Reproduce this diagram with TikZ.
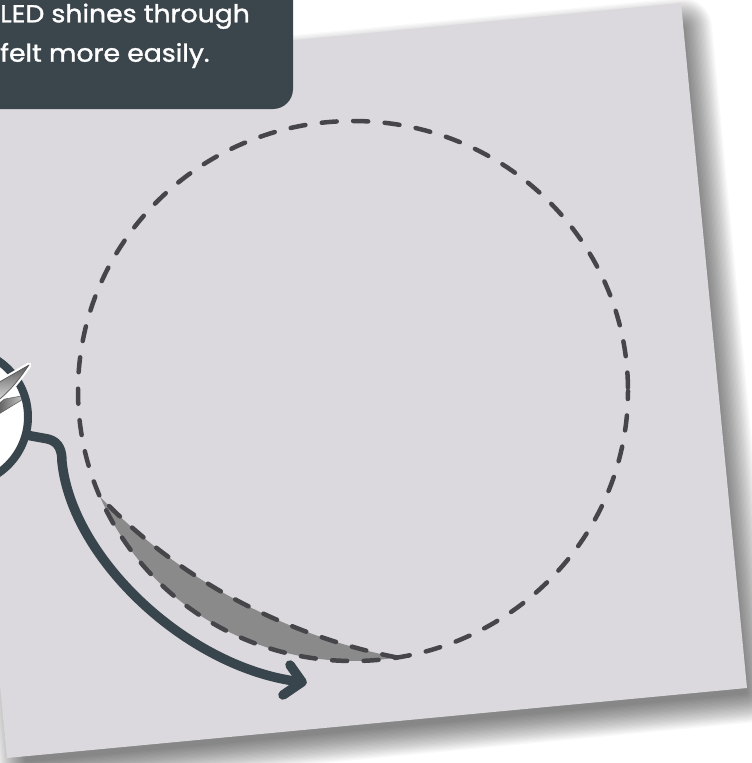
\documentclass[tikz,border=0pt]{standalone}
\usepackage{fontspec}
\setmainfont{Poppins}
\newfontfamily\capfont[FakeBold=1.4, FakeStretch=1.09]{Poppins}
\usetikzlibrary{calc}
\definecolor{panelc}{HTML}{DBD9DE}
\definecolor{boxc}{HTML}{3B454C}
\definecolor{arrowc}{HTML}{38454D}
\definecolor{dashc}{HTML}{46464A}
\definecolor{crescc}{HTML}{8A8A8A}
\begin{document}
\begin{tikzpicture}[x=1pt,y=-1pt,
  dashline/.style={draw=dashc, line width=4.5pt, dash pattern=on 15pt off 16.5pt, line cap=round},
  thickline/.style={draw=arrowc, line width=9.5pt, line cap=round, line join=round},
  captext/.style={anchor=base west, inner sep=0pt, text=white, font=\capfont\fontsize{24.5}{39}\selectfont}]
\useasboundingbox (0,0) rectangle (752,763);
\clip (0,0) rectangle (752,763);
\fill[white] (0,0) rectangle (752,763);
% shadow of the panel
\foreach \k in {1,...,24}{
  \pgfmathsetmacro{\e}{30*\k/24}
  \fill[black, fill opacity=0.024, rounded corners=\e pt]
    ($(-38.1,97)+\e*(-1.0914,-0.8998)$) -- ($(682,27.9)+\e*(0.8994,-1.0908)$) --
    ($(746.1,693)+\e*(1.0914,0.8998)$) -- ($(26,761.1)+\e*(-0.8994,1.0908)$) -- cycle;
}
% panel
\coordinate (pTL) at (-59,74);
\coordinate (pTR) at (681,3);
\coordinate (pBR) at (747,688);
\coordinate (pBL) at (7,758);
\fill[panelc] (pTL) -- (pTR) -- (pBR) -- (pBL) -- cycle;
% crescent
\coordinate (cA) at (100.1,496.9);
\coordinate (cC) at (397.0,657.5);
\fill[crescc] (cA) arc[start angle=156.9, end angle=80.8, x radius=275, y radius=270]
  .. controls (284,635) and (180,580) .. (cA);
% dashed circle and inner arc
\draw[dashline, dash phase=7pt] (353,391) ellipse [x radius=275, y radius=270];
\draw[dashline] (cC) .. controls (284,635) and (180,580) .. (cA);
% lens circle
\fill[white] (-40,417) circle [radius=68];
\begin{scope}
  \clip (-40,417) circle [radius=66];
  \shade[left color=black!70, right color=black!20, draw=black!60, line width=0.6pt]
    (-6,401) -- (24,395.5) -- (24,398.5) -- (-6,417) -- cycle;
\end{scope}
\node[draw=arrowc, line width=8pt, circle, minimum size=136pt, inner sep=0pt] (lens) at (-40,417) {};
% upper blade with glow
\draw[white, line width=5pt, line join=round] (-4,384) -- (29,365) .. controls (22,375) and (12,390) .. (-4,402) -- cycle;
\shade[top color=black!65, bottom color=black!12, draw=black!65, line width=0.7pt, line join=round]
  (-4,384) -- (29,365) .. controls (22,375) and (12,390) .. (-4,402) -- cycle;
% arrow
\coordinate (arrowtip) at (302,682);
\draw[thickline] (lens.-15) -- (48,439) .. controls (60,442) and (62,452) .. (62,462)
  .. controls (72,560) and (190,670) .. (arrowtip);
\draw[thickline] (290,665) -- (arrowtip) -- (283,695);
% caption box
\fill[boxc] (-10,-10) -- (293,-10) -- (293,89) .. controls (293,100) and (284,109) .. (273,109) -- (-10,109) -- cycle;
\node[captext] (cap1) at (0,22.3) {LED shines through};
\node[captext] (cap2) at (0,61.7) {felt more easily.};
\end{tikzpicture}
\end{document}
